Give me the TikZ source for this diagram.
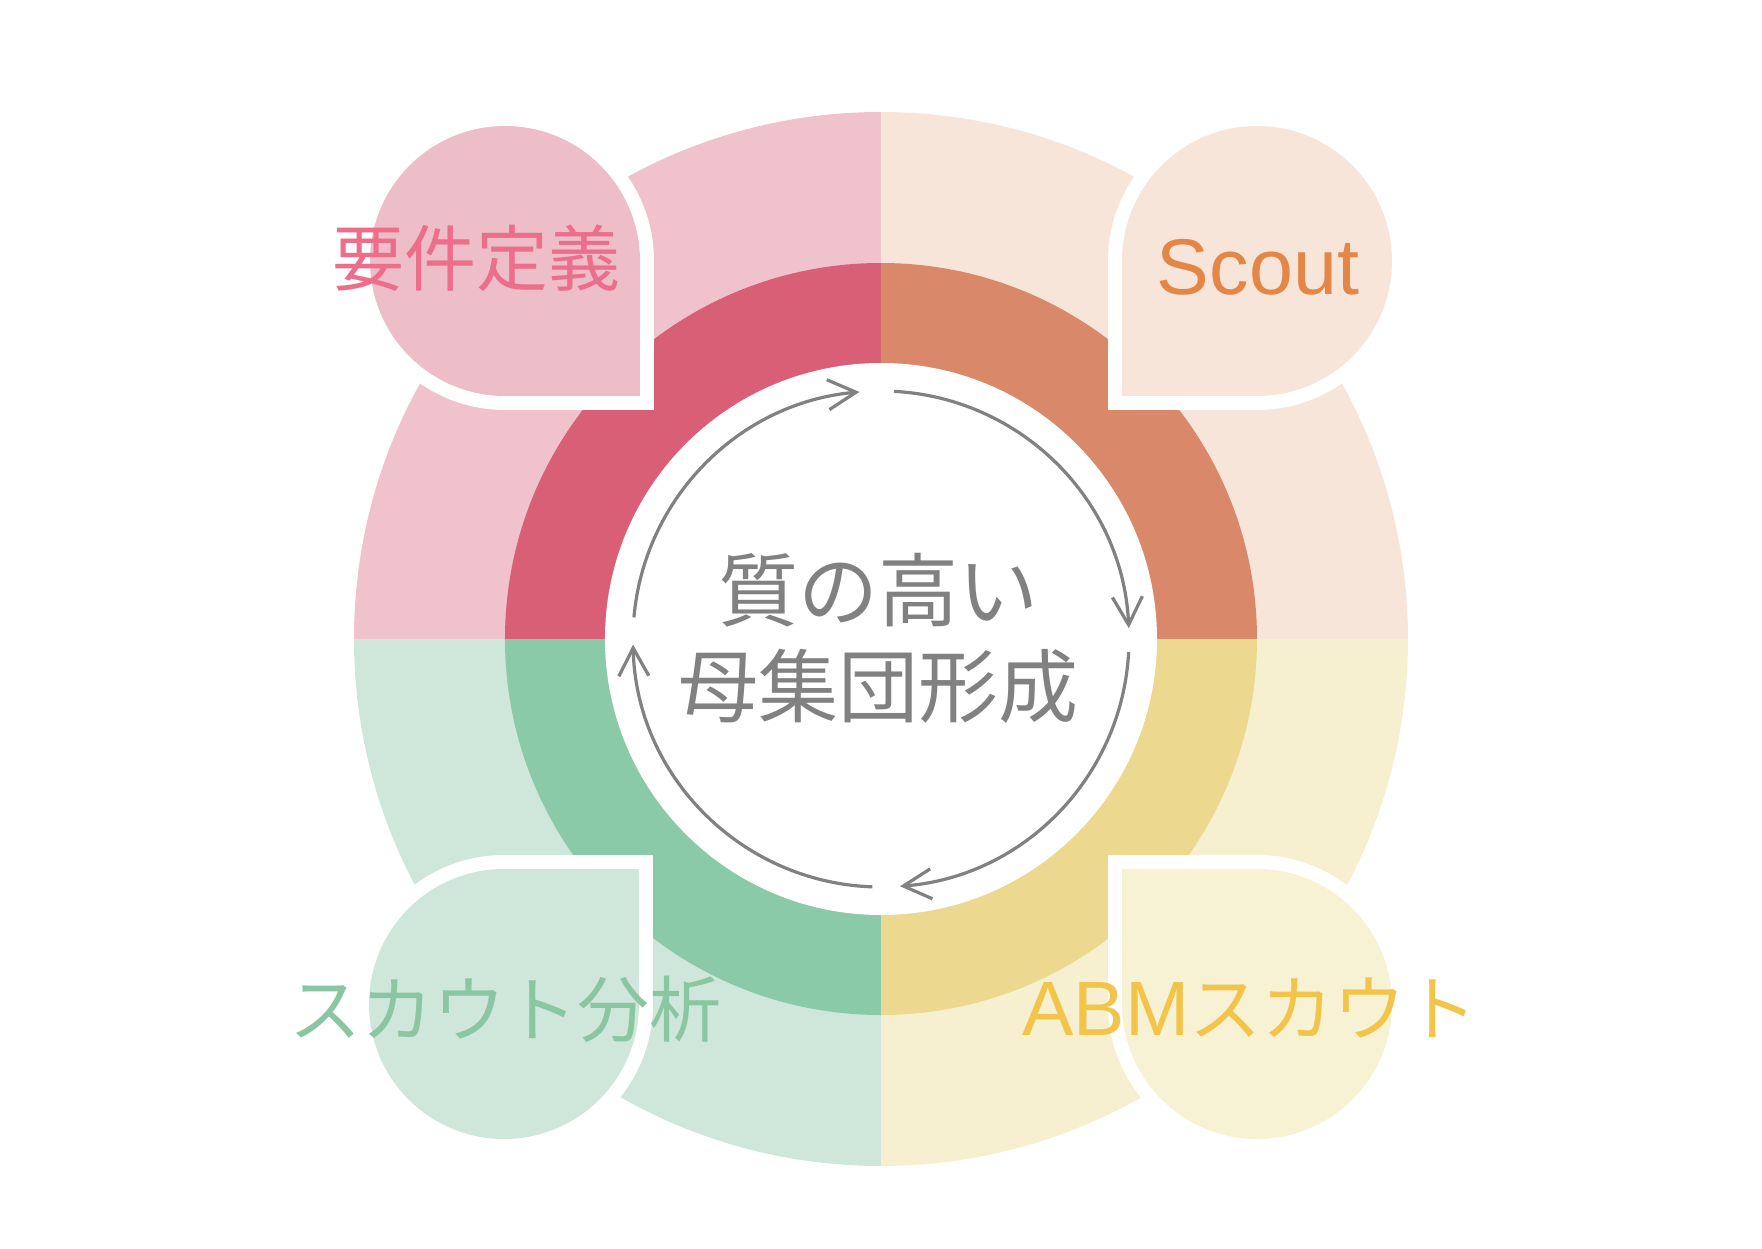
\documentclass[tikz,border=0pt]{standalone}
\usepackage{fontspec}
\setmainfont{Noto Sans CJK JP}
\newfontfamily\latinfont{Liberation Sans}
\usepackage{tikz}
\usetikzlibrary{arrows.meta}

\definecolor{reqdark}{HTML}{D95F76}
\definecolor{reqlight}{HTML}{F0C2CB}
\definecolor{reqdrop}{HTML}{EDBEC8}
\definecolor{reqtext}{HTML}{EC6E8B}
\definecolor{scoutdark}{HTML}{D98969}
\definecolor{scoutlight}{HTML}{F8E5D9}
\definecolor{scouttext}{HTML}{E38646}
\definecolor{abmdark}{HTML}{ECD98F}
\definecolor{abmlight}{HTML}{F7F0D0}
\definecolor{abmdrop}{HTML}{F8F2D4}
\definecolor{abmtext}{HTML}{F2C54A}
\definecolor{anadark}{HTML}{8BCAA8}
\definecolor{analight}{HTML}{CEE7DA}
\definecolor{anatext}{HTML}{8BC6A3}
\definecolor{cyclegray}{HTML}{818181}

\begin{document}
\begin{tikzpicture}[x=1pt,y=1pt]
	\tikzstyle{every node}=[inner sep=0pt, outer sep=0pt]
	\tikzstyle{dropedge}=[draw=white, fill=white, line width=28pt, line join=miter]
	\tikzstyle{cyclearc}=[draw=cyclegray, line width=3.2pt, -{Straight Barb[length=28pt,width=30pt]}]
	\tikzstyle{stagetext}=[font=\fontsize{72}{86}\selectfont]
	
	\useasboundingbox (-881,-609) rectangle (881,639);
	
	% outer ring
	\fill[reqlight] (0,0) -- (180:527) arc[start angle=180, end angle=90, radius=527] -- cycle;
	\fill[scoutlight] (0,0) -- (90:527) arc[start angle=90, end angle=0, radius=527] -- cycle;
	\fill[abmlight] (0,0) -- (0:527) arc[start angle=0, end angle=-90, radius=527] -- cycle;
	\fill[analight] (0,0) -- (-90:527) arc[start angle=-90, end angle=-180, radius=527] -- cycle;
	
	% inner ring
	\fill[reqdark] (0,0) -- (180:376) arc[start angle=180, end angle=90, radius=376] -- cycle;
	\fill[scoutdark] (0,0) -- (90:376) arc[start angle=90, end angle=0, radius=376] -- cycle;
	\fill[abmdark] (0,0) -- (0:376) arc[start angle=0, end angle=-90, radius=376] -- cycle;
	\fill[anadark] (0,0) -- (-90:376) arc[start angle=-90, end angle=-180, radius=376] -- cycle;
	\fill[white] (0,0) circle[radius=276];
	
	% drops
	\draw[dropedge] (-241,378) -- (-241,243) -- (-376,243) arc[start angle=270, end angle=0, radius=135] -- cycle;
	\fill[reqdrop] (-241,378) -- (-241,243) -- (-376,243) arc[start angle=270, end angle=0, radius=135] -- cycle;
	
	\draw[dropedge] (241,378) -- (241,243) -- (376,243) arc[start angle=270, end angle=540, radius=135] -- cycle;
	\fill[scoutlight] (241,378) -- (241,243) -- (376,243) arc[start angle=270, end angle=540, radius=135] -- cycle;
	
	\draw[dropedge] (-242,-365) -- (-242,-230) -- (-377,-230) arc[start angle=90, end angle=360, radius=135] -- cycle;
	\fill[analight] (-242,-365) -- (-242,-230) -- (-377,-230) arc[start angle=90, end angle=360, radius=135] -- cycle;
	
	\draw[dropedge] (241,-365) -- (241,-230) -- (376,-230) arc[start angle=90, end angle=-180, radius=135] -- cycle;
	\fill[abmdrop] (241,-365) -- (241,-230) -- (376,-230) arc[start angle=90, end angle=-180, radius=135] -- cycle;
	
	% cycle arrows
	\draw[cyclearc] (175:248) arc[start angle=175, end angle=95, radius=248];
	\draw[cyclearc] (87:248) arc[start angle=87, end angle=2.5, radius=248];
	\draw[cyclearc] (-3:248) arc[start angle=-3, end angle=-85.6, radius=248];
	\draw[cyclearc] (-92:248) arc[start angle=-92, end angle=-178.7, radius=248];
	
	% texts
	\node[stagetext, text=reqtext] (req) at (-404,381) {要件定義};
	\node[text=scouttext, font=\latinfont\fontsize{79}{90}\selectfont] (scout) at (377,372) {Scout};
	\node[stagetext, text=anatext] (ana) at (-375,-370) {スカウト分析};
	\node[stagetext, text=abmtext] (abm) at (369,-369) {{\latinfont\fontsize{77}{90}\selectfont ABM}スカウト};
	\node[text=cyclegray, align=center, font=\fontsize{80}{96}\selectfont] (pool) at (-2,1) {質の高い\\母集団形成};
	
\end{tikzpicture}
\end{document}
